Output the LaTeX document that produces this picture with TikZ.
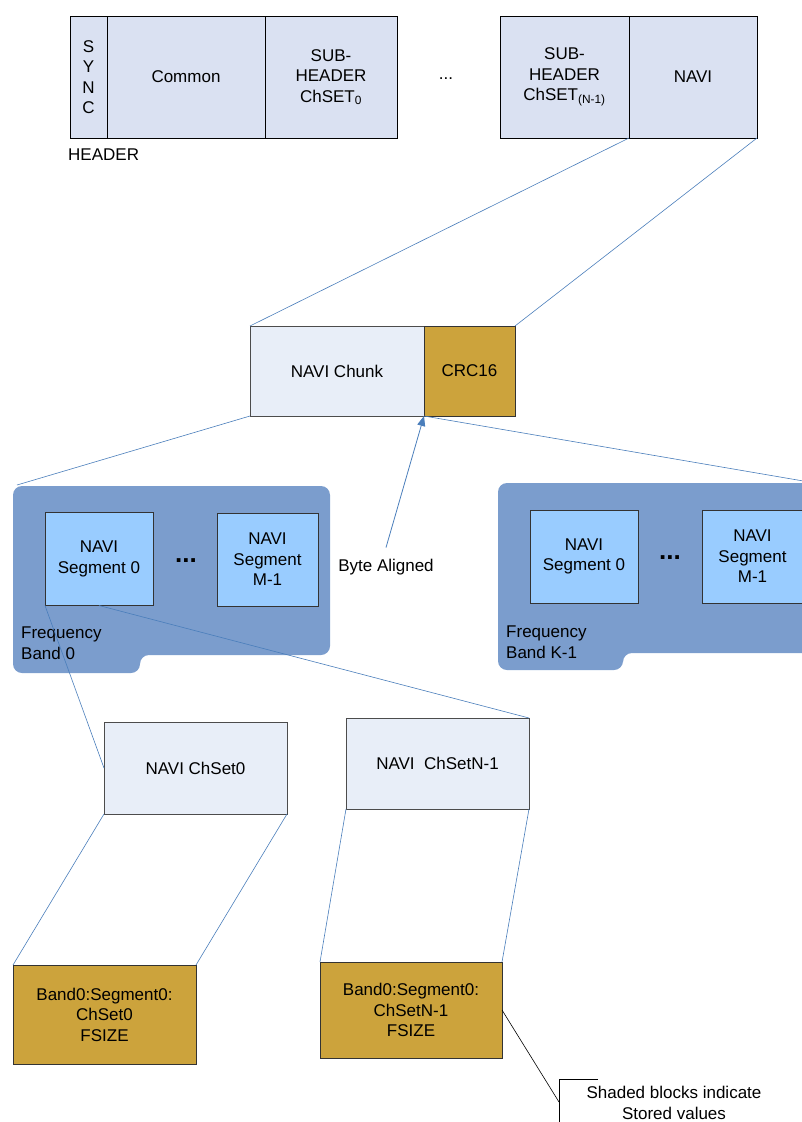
\documentclass[tikz,border=0pt]{standalone}
\usepackage{fontspec}
\setmainfont{Liberation Sans}
\usetikzlibrary{arrows.meta}
\definecolor{hdrfill}{RGB}{218,225,242}
\definecolor{chunkfill}{RGB}{232,238,248}
\definecolor{goldfill}{RGB}{204,163,60}
\definecolor{bandfill}{RGB}{123,157,205}
\definecolor{segfill}{RGB}{153,204,255}
\definecolor{linkblue}{RGB}{74,126,187}
\tikzset{
	every node/.style={font=\fontsize{17}{20.5}\selectfont},
	align=center,
	field/.style={
		draw=black,
		fill=hdrfill,
		line width=0.9pt,
		inner sep=0pt,
		outer sep=0pt,
	},
	chunk/.style={
		field,
		draw=black!70,
		fill=chunkfill,
	},
	stored/.style={
		field,
		draw=black!80,
		fill=goldfill,
	},
	segment/.style={
		field,
		draw=black!80,
		fill=segfill,
	},
	band/.style={
		fill=bandfill,
		rounded corners=9pt,
	},
	ellip/.style={
		font=\fontsize{26}{26}\selectfont\bfseries,
	},
	link/.style={
		draw=linkblue,
		line width=0.6pt,
	},
	pointer/.style={
		link,
		line width=0.8pt,
		-{Triangle[length=10pt,width=8pt]}
	},
	callout/.style={
		draw=black,
		line width=0.6pt,
	},
	bandtext/.style={
		align=left,
		anchor=west,
		inner sep=0pt,
	},
}

\begin{document}
\begin{tikzpicture}[x=1pt, y=-1pt]
	\useasboundingbox (0,0) rectangle (802,1122);
	\clip (0,0) rectangle (802,1122);

	% header
	\node[field, minimum width=37pt, minimum height=122pt] (sync) at (88.5,77) {S\\Y\\N\\C};
	\node[field, minimum width=158pt, minimum height=122pt] (common) at (186,77) {Common};
	\node[field, minimum width=132pt, minimum height=122pt] (subfirst) at (331,77) {SUB-\\HEADER\\ChSET\textsubscript{0}};
	\node (hdots) at (446,79) {...};
	\node[field, minimum width=129pt, minimum height=122pt] (sublast) at (564.5,77) {SUB-\\HEADER\\ChSET\textsubscript{(N-1)}};
	\node[field, minimum width=128pt, minimum height=122pt] (navi) at (693,77) {NAVI};
	\node[bandtext] (header) at (68,155) {HEADER};

	% navi chunk
	\node[chunk, minimum width=174pt, minimum height=90pt] (chunk) at (337,371) {NAVI Chunk};
	\node[stored, minimum width=91pt, minimum height=90pt] (crc) at (469.5,371) {CRC16};

	% frequency bands
	\fill[band] (13,486) -- (330,486) -- (330,655) -- (140,655) -- (140,673) -- (13,673) -- cycle;
	\fill[band] (498,483) -- (815,483) -- (815,653) -- (623,653) -- (623,670) -- (498,670) -- cycle;
	\coordinate (bandfirst) at (17,485);
	\coordinate (bandlast) at (815,483);

	\node[segment, minimum width=108pt, minimum height=93pt] (segfirst) at (99,559) {NAVI\\Segment 0};
	\node[ellip] (sdots) at (186,561) {...};
	\node[segment, minimum width=101pt, minimum height=93pt] (seglast) at (267.5,559.5) {NAVI\\Segment\\M-1};
	\node[bandtext] (bandzero) at (21,643) {Frequency\\Band 0};

	\node[segment, minimum width=108pt, minimum height=93pt] (segkfirst) at (584,556.5) {NAVI\\Segment 0};
	\node[ellip] (skdots) at (670,558) {...};
	\node[segment, minimum width=101pt, minimum height=93pt] (segklast) at (752.5,556.5) {NAVI\\Segment\\M-1};
	\node[bandtext] (bandk) at (506,642) {Frequency\\Band K-1};

	\node (byte) at (386,567) {Byte Aligned};

	% channel sets
	\node[chunk, minimum width=183pt, minimum height=92pt] (chsetfirst) at (195.5,768) {NAVI ChSet0};
	\node[chunk, minimum width=183pt, minimum height=91pt] (chsetlast) at (437.5,763.5) {NAVI\ \ ChSetN-1};
	\node[stored, minimum width=183pt, minimum height=99pt] (goldfirst) at (104.5,1014.5) {Band0:Segment0:\\ChSet0\\FSIZE};
	\node[stored, minimum width=182pt, minimum height=96pt] (goldlast) at (411,1010) {Band0:Segment0:\\ChSetN-1\\FSIZE};

	\node (note) at (674,1103) {Shaded blocks indicate\\Stored values};
	\coordinate (notecorner) at (559,1102);

	\draw[link] (navi.south west) -- (chunk.north west);
	\draw[link] (navi.south east) -- (crc.north east);
	\draw[link] (chunk.south west) -- (bandfirst);
	\draw[link] (chunk.south east) -- (bandlast);
	\draw[pointer] ([yshift=8pt]byte.north) -- (chunk.south east);

	\draw[link] (segfirst.south west) -- (chsetfirst.west);
	\draw[link] (segfirst.south) -- (chsetlast.north east);
	\draw[link] (chsetfirst.south west) -- (goldfirst.north west);
	\draw[link] (chsetfirst.south east) -- (goldfirst.north east);
	\draw[link] (chsetlast.south west) -- (goldlast.north west);
	\draw[link] (chsetlast.south east) -- (goldlast.north east);

	\draw[callout] (goldlast.east) -- (notecorner);
	\draw[callout] (598,1079) -- (559,1079) -- (559,1125);

\end{tikzpicture}
\end{document}
